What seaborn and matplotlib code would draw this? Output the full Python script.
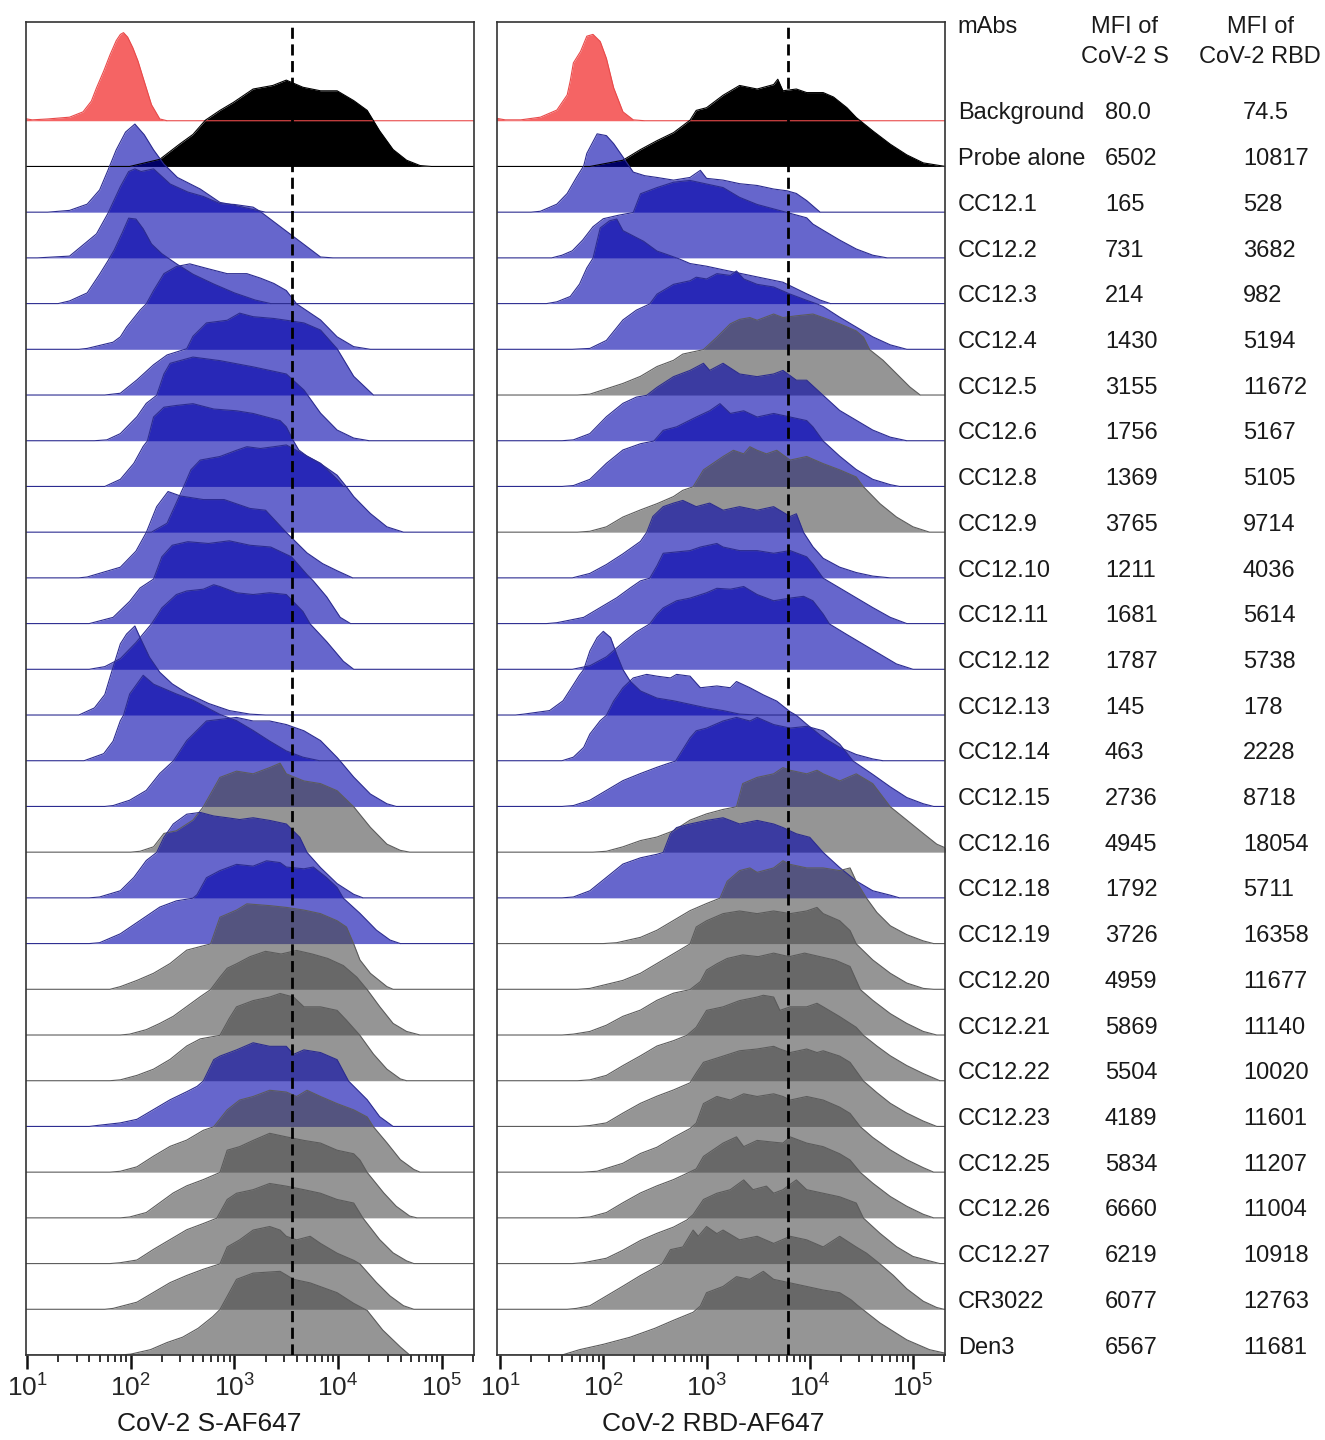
import numpy as np
import matplotlib
matplotlib.use("Agg")
import matplotlib.pyplot as plt
import seaborn as sns
from matplotlib.ticker import LogLocator, LogFormatterMathtext, NullFormatter

# ---- data --------------------------------------------------------------------
labels = ["Background", "Probe alone", "CC12.1", "CC12.2", "CC12.3", "CC12.4",
          "CC12.5", "CC12.6", "CC12.8", "CC12.9", "CC12.10", "CC12.11", "CC12.12",
          "CC12.13", "CC12.14", "CC12.15", "CC12.16", "CC12.18", "CC12.19",
          "CC12.20", "CC12.21", "CC12.22", "CC12.23", "CC12.25", "CC12.26",
          "CC12.27", "CR3022", "Den3"]
mfi_s = ["80.0", "6502", "165", "731", "214", "1430", "3155", "1756", "1369",
         "3765", "1211", "1681", "1787", "145", "463", "2736", "4945", "1792",
         "3726", "4959", "5869", "5504", "4189", "5834", "6660", "6219", "6077", "6567"]
mfi_rbd = ["74.5", "10817", "528", "3682", "982", "5194", "11672", "5167", "5105",
           "9714", "4036", "5614", "5738", "178", "2228", "8718", "18054", "5711",
           "16358", "11677", "11140", "10020", "11601", "11207", "11004", "10918",
           "12763", "11681"]

# r = background, k = probe alone, b = reduced binding, g = no competition
colors_s = list("rk" + "b" * 14 + "gbbgggb" + "g" * 5)
colors_rbd = list("rk" + "bbbb" + "g" + "bb" + "g" + "b" * 6 + "gb" + "g" * 10)

gate_s = 3590      # dashed reference line, S panel
gate_rbd = 6170    # dashed reference line, RBD panel

# histograms: (log10 fluorescence, % of mode)
hist_s = [
    [(0.95,3),(1.05,1),(1.2,2),(1.41,4),(1.54,10),(1.62,22),(1.67,37),(1.74,56),(1.80,74),(1.86,90),(1.90,97),(1.93,99),(1.97,94),(2.02,82),(2.07,67),(2.12,48),(2.2,18),(2.28,2),(2.35,0)],
    [(1.99,0),(2.28,8),(2.47,25),(2.6,36),(2.72,52),(2.86,63),(2.99,72),(3.18,87),(3.37,91),(3.5,97),(3.66,89),(3.83,85),(3.99,85),(4.15,74),(4.28,63),(4.4,40),(4.53,19),(4.66,7),(4.79,1),(4.9,0)],
    [(1.2,0),(1.41,2),(1.58,9),(1.70,25),(1.78,47),(1.86,70),(1.95,90),(2.04,99),(2.13,87),(2.22,70),(2.32,54),(2.45,39),(2.67,26),(2.86,11),(2.95,9),(3.18,3),(3.3,0)],
    [(1.1,0),(1.41,2),(1.67,27),(1.78,50),(1.9,80),(1.98,97),(2.04,100),(2.1,97),(2.22,100),(2.38,83),(2.55,74),(2.70,69),(2.86,61),(3.0,60),(3.18,57),(3.25,52),(3.5,30),(3.66,16),(3.83,1),(3.95,0)],
    [(1.3,0),(1.41,3),(1.58,12),(1.70,33),(1.78,48),(1.84,60),(1.92,80),(1.98,96),(2.05,95),(2.12,84),(2.2,67),(2.3,56),(2.45,44),(2.6,33),(2.8,22),(3.0,12),(3.2,4),(3.35,0)],
    [(1.5,0),(1.58,1),(1.83,8),(1.9,14),(1.96,25),(2.09,44),(2.15,51),(2.22,66),(2.32,85),(2.44,93),(2.57,96),(2.73,91),(2.93,85),(3.12,85),(3.25,80),(3.38,74),(3.5,66),(3.6,51),(3.83,33),(3.99,14),(4.15,3),(4.31,0)],
    [(1.75,0),(1.9,2),(2.06,17),(2.22,34),(2.35,45),(2.54,52),(2.6,66),(2.73,81),(2.93,84),(3.05,92),(3.18,88),(3.38,86),(3.5,84),(3.67,81),(3.83,73),(3.99,52),(4.15,21),(4.34,0)],
    [(1.65,0),(1.77,1),(1.9,8),(2.06,27),(2.15,42),(2.25,51),(2.32,75),(2.38,87),(2.6,94),(2.86,90),(3.18,83),(3.5,75),(3.67,57),(3.83,31),(3.99,12),(4.15,3),(4.3,0)],
    [(1.75,0),(1.9,8),(2.03,26),(2.12,45),(2.16,51),(2.22,78),(2.32,89),(2.44,91),(2.6,93),(2.8,87),(3.02,85),(3.18,82),(3.31,78),(3.44,74),(3.5,67),(3.57,51),(3.62,41),(3.7,34),(3.83,26),(3.99,8),(4.05,0)],
    [(2.2,0),(2.35,10),(2.44,33),(2.51,51),(2.58,70),(2.67,81),(2.86,85),(3.02,92),(3.12,96),(3.25,94),(3.38,96),(3.5,98),(3.66,88),(3.83,77),(3.99,64),(4.08,51),(4.15,40),(4.31,21),(4.47,6),(4.63,0)],
    [(1.5,0),(1.58,1),(1.9,12),(2.05,30),(2.15,51),(2.25,80),(2.36,97),(2.48,92),(2.7,88),(2.9,88),(3.15,78),(3.3,76),(3.5,51),(3.7,28),(3.85,16),(3.99,8),(4.14,0)],
    [(1.6,0),(1.83,7),(1.99,25),(2.09,40),(2.22,50),(2.3,75),(2.4,88),(2.55,92),(2.75,90),(2.95,93),(3.15,88),(3.35,86),(3.55,75),(3.7,55),(3.76,48),(3.89,30),(4.02,7),(4.12,0)],
    [(1.6,0),(1.75,3),(1.9,12),(2.05,30),(2.2,51),(2.3,69),(2.44,84),(2.54,88),(2.7,90),(2.8,95),(2.86,93),(3.02,86),(3.18,84),(3.34,86),(3.5,84),(3.66,65),(3.73,51),(3.89,31),(4.05,9),(4.15,0)],
    [(1.5,0),(1.65,8),(1.75,23),(1.82,50),(1.9,80),(1.96,91),(2.04,100),(2.09,87),(2.18,65),(2.28,48),(2.4,35),(2.55,24),(2.75,13),(2.95,5),(3.15,1),(3.3,0)],
    [(1.55,0),(1.74,8),(1.83,22),(1.9,45),(1.93,51),(1.99,75),(2.12,96),(2.22,86),(2.32,81),(2.44,75),(2.6,68),(2.73,60),(2.86,52),(3.02,45),(3.18,34),(3.34,22),(3.5,11),(3.66,4),(3.82,0)],
    [(1.75,0),(1.83,1),(1.99,7),(2.15,18),(2.28,37),(2.41,51),(2.54,74),(2.73,96),(3.02,100),(3.18,96),(3.34,96),(3.5,92),(3.67,85),(3.83,74),(3.99,55),(4.02,51),(4.15,33),(4.31,14),(4.47,3),(4.56,0)],
    [(2.0,0),(2.09,1),(2.22,6),(2.32,21),(2.44,24),(2.6,36),(2.7,51),(2.86,84),(3.02,91),(3.18,88),(3.34,95),(3.44,100),(3.5,88),(3.67,80),(3.83,77),(3.99,69),(4.15,51),(4.31,28),(4.47,9),(4.6,2),(4.69,0)],
    [(1.6,0),(1.7,1),(1.9,8),(2.03,23),(2.15,42),(2.25,51),(2.32,68),(2.41,83),(2.54,94),(2.67,96),(2.8,92),(2.93,90),(3.05,88),(3.18,90),(3.34,87),(3.5,83),(3.63,68),(3.7,51),(3.83,34),(3.99,16),(4.15,4),(4.24,0)],
    [(1.6,0),(1.7,1),(1.9,11),(2.09,26),(2.28,41),(2.44,48),(2.6,51),(2.64,55),(2.73,74),(2.86,82),(3.02,89),(3.18,87),(3.31,93),(3.44,91),(3.5,86),(3.67,84),(3.76,86),(3.89,74),(3.99,63),(4.05,51),(4.21,34),(4.37,15),(4.5,4),(4.6,0)],
    [(1.8,0),(1.9,3),(2.06,10),(2.22,18),(2.38,29),(2.54,44),(2.77,51),(2.86,81),(3.02,89),(3.12,96),(3.34,94),(3.5,92),(3.67,89),(3.83,85),(3.99,77),(4.08,70),(4.15,51),(4.21,33),(4.31,18),(4.47,3),(4.53,0)],
    [(1.9,0),(1.99,1),(2.15,6),(2.28,13),(2.41,21),(2.54,32),(2.67,43),(2.77,51),(2.86,65),(2.93,75),(3.02,80),(3.15,88),(3.3,94),(3.45,91),(3.6,95),(3.75,91),(3.9,86),(4.05,78),(4.18,65),(4.28,51),(4.4,32),(4.53,13),(4.66,4),(4.79,0)],
    [(1.8,0),(1.9,1),(2.06,6),(2.22,13),(2.38,24),(2.54,39),(2.67,47),(2.86,51),(2.95,70),(3.02,83),(3.18,90),(3.34,94),(3.44,98),(3.57,94),(3.67,83),(3.83,83),(3.99,79),(4.08,68),(4.21,51),(4.34,30),(4.47,13),(4.6,2),(4.66,0)],
    [(1.6,0),(1.67,1),(1.9,4),(2.06,8),(2.22,19),(2.38,30),(2.54,39),(2.64,45),(2.7,51),(2.8,75),(2.86,79),(3.02,86),(3.18,94),(3.34,90),(3.5,90),(3.57,81),(3.67,86),(3.83,83),(3.99,75),(4.1,51),(4.28,30),(4.4,11),(4.53,0)],
    [(1.8,0),(1.9,1),(2.06,6),(2.22,18),(2.38,29),(2.54,36),(2.7,47),(2.8,51),(2.93,70),(3.05,81),(3.18,85),(3.34,92),(3.5,90),(3.6,85),(3.7,92),(3.83,85),(3.99,77),(4.15,70),(4.28,62),(4.34,51),(4.47,33),(4.6,14),(4.73,3),(4.79,0)],
    [(1.9,0),(1.99,1),(2.15,6),(2.28,17),(2.41,28),(2.54,36),(2.7,43),(2.86,51),(2.93,76),(3.05,80),(3.18,87),(3.34,95),(3.5,91),(3.67,87),(3.83,84),(3.99,76),(4.15,72),(4.21,65),(4.28,51),(4.44,28),(4.56,13),(4.69,2),(4.76,0)],
    [(1.8,0),(1.9,1),(2.06,4),(2.22,16),(2.38,27),(2.54,38),(2.7,45),(2.83,51),(2.93,72),(3.02,79),(3.18,83),(3.34,90),(3.5,87),(3.67,83),(3.83,79),(3.99,72),(4.15,68),(4.24,51),(4.4,27),(4.53,12),(4.66,3),(4.73,0)],
    [(1.75,0),(1.83,1),(2.06,8),(2.22,19),(2.38,30),(2.54,38),(2.7,45),(2.86,51),(2.93,70),(3.05,78),(3.18,89),(3.34,93),(3.44,89),(3.5,82),(3.6,78),(3.73,82),(3.83,74),(3.99,63),(4.15,55),(4.21,51),(4.37,30),(4.5,15),(4.63,4),(4.73,0)],
    [(1.9,0),(2.0,1),(2.19,6),(2.35,14),(2.5,20),(2.65,30),(2.79,43),(2.86,51),(3.02,85),(3.18,92),(3.44,94),(3.57,85),(3.73,81),(3.99,70),(4.15,58),(4.28,50),(4.43,28),(4.6,9),(4.69,0)],
]

hist_rbd = [
    [(0.95,3),(1.05,1),(1.2,1),(1.39,4),(1.55,12),(1.65,29),(1.68,45),(1.71,65),(1.78,78),(1.84,95),(1.9,97),(1.97,89),(2.03,70),(2.1,37),(2.19,10),(2.29,1),(2.4,0)],
    [(1.87,0),(2.19,7),(2.36,19),(2.52,29),(2.68,38),(2.84,52),(2.9,63),(3.0,66),(3.16,80),(3.32,91),(3.49,87),(3.65,92),(3.69,98),(3.74,85),(3.87,87),(3.97,83),(4.13,83),(4.23,78),(4.36,66),(4.45,55),(4.61,40),(4.78,25),(4.94,13),(5.1,4),(5.26,1),(5.32,0)],
    [(1.3,0),(1.39,1),(1.55,9),(1.65,21),(1.74,39),(1.81,52),(1.84,66),(1.94,88),(2.03,86),(2.1,77),(2.19,62),(2.29,45),(2.4,41),(2.52,39),(2.68,36),(2.84,39),(2.94,47),(3.0,38),(3.16,36),(3.32,32),(3.49,30),(3.65,26),(3.78,24),(3.87,21),(3.97,13),(4.03,7),(4.1,0)],
    [(1.5,0),(1.6,3),(1.7,8),(1.8,20),(1.9,35),(2.0,44),(2.15,48),(2.29,51),(2.36,72),(2.52,79),(2.68,85),(2.84,87),(3.0,83),(3.16,79),(3.32,68),(3.49,60),(3.65,55),(3.78,51),(3.97,45),(4.03,38),(4.13,31),(4.29,20),(4.45,10),(4.61,3),(4.75,0)],
    [(1.45,0),(1.55,2),(1.68,8),(1.77,22),(1.84,40),(1.9,51),(1.97,85),(2.06,93),(2.13,95),(2.19,82),(2.29,76),(2.39,70),(2.52,59),(2.62,55),(2.74,50),(2.84,45),(3.0,42),(3.16,38),(3.49,30),(3.74,24),(3.97,11),(4.1,4),(4.2,0)],
    [(1.7,0),(1.87,1),(2.03,10),(2.19,33),(2.32,44),(2.45,51),(2.52,62),(2.68,73),(2.84,77),(2.9,81),(3.0,79),(3.1,85),(3.23,83),(3.29,88),(3.36,79),(3.49,73),(3.65,70),(3.81,62),(3.97,55),(4.07,51),(4.13,48),(4.29,36),(4.45,25),(4.61,14),(4.78,5),(4.94,0)],
    [(1.75,0),(1.87,1),(2.19,13),(2.36,21),(2.52,32),(2.68,39),(2.77,46),(2.97,51),(3.1,65),(3.23,80),(3.32,85),(3.42,87),(3.49,84),(3.65,91),(3.74,87),(3.87,89),(4.03,91),(4.13,87),(4.29,80),(4.45,72),(4.52,65),(4.58,51),(4.71,39),(4.84,24),(4.97,9),(5.07,0)],
    [(1.6,0),(1.71,1),(1.87,8),(2.03,27),(2.19,42),(2.32,49),(2.42,51),(2.52,60),(2.68,72),(2.84,79),(2.97,87),(3.03,79),(3.16,87),(3.32,75),(3.49,72),(3.65,75),(3.74,79),(3.87,68),(3.97,68),(4.13,51),(4.29,34),(4.45,23),(4.61,12),(4.78,4),(4.94,0)],
    [(1.6,0),(1.71,1),(1.87,8),(2.03,26),(2.19,41),(2.36,48),(2.49,51),(2.58,63),(2.71,67),(2.9,78),(3.03,85),(3.13,93),(3.23,82),(3.36,85),(3.49,78),(3.65,82),(3.81,78),(3.97,74),(4.03,67),(4.13,51),(4.29,34),(4.45,19),(4.61,8),(4.78,2),(4.87,0)],
    [(1.75,0),(1.87,1),(2.03,6),(2.19,17),(2.36,25),(2.52,32),(2.68,40),(2.77,47),(2.87,51),(2.97,70),(3.16,85),(3.26,92),(3.36,88),(3.42,96),(3.49,92),(3.58,88),(3.68,92),(3.81,81),(3.97,85),(4.13,77),(4.29,70),(4.45,62),(4.52,51),(4.68,32),(4.84,17),(5.0,6),(5.16,0)],
    [(1.7,0),(1.87,5),(2.03,15),(2.19,27),(2.36,41),(2.42,51),(2.48,69),(2.58,80),(2.68,84),(2.77,87),(2.9,80),(3.03,84),(3.16,76),(3.32,80),(3.49,76),(3.65,80),(3.81,69),(3.87,72),(3.94,51),(4.03,35),(4.13,22),(4.29,12),(4.45,6),(4.61,2),(4.78,0)],
    [(1.45,0),(1.55,1),(1.81,7),(1.97,18),(2.13,29),(2.26,40),(2.36,48),(2.45,51),(2.52,65),(2.58,79),(2.84,82),(2.94,86),(3.1,90),(3.16,86),(3.32,82),(3.49,82),(3.65,79),(3.81,82),(3.97,75),(4.03,67),(4.13,51),(4.29,40),(4.45,29),(4.61,18),(4.78,7),(4.94,0)],
    [(1.7,0),(1.87,4),(2.03,14),(2.19,30),(2.32,42),(2.45,51),(2.52,62),(2.58,69),(2.71,77),(2.84,80),(3.0,86),(3.1,91),(3.23,90),(3.36,93),(3.49,84),(3.65,77),(3.81,80),(3.94,82),(4.03,77),(4.13,62),(4.19,51),(4.36,39),(4.52,28),(4.68,17),(4.84,6),(5.0,0)],
    [(1.15,0),(1.23,1),(1.48,5),(1.61,16),(1.71,34),(1.77,45),(1.81,51),(1.87,72),(1.94,87),(2.0,94),(2.07,87),(2.13,68),(2.19,51),(2.26,38),(2.36,27),(2.52,19),(2.68,16),(2.84,12),(3.0,8),(3.16,5),(3.32,1),(3.49,0)],
    [(1.6,0),(1.71,4),(1.81,15),(1.87,30),(1.97,45),(2.03,51),(2.1,67),(2.19,82),(2.29,93),(2.42,97),(2.52,95),(2.65,93),(2.71,97),(2.84,95),(2.94,82),(3.1,84),(3.23,82),(3.29,89),(3.42,82),(3.55,74),(3.68,67),(3.81,55),(3.87,51),(3.97,41),(4.13,26),(4.29,15),(4.45,7),(4.61,2),(4.71,0)],
    [(1.6,0),(1.71,1),(1.87,7),(2.03,18),(2.19,29),(2.36,37),(2.52,44),(2.62,48),(2.7,51),(2.84,77),(2.9,85),(3.0,88),(3.16,96),(3.29,100),(3.42,96),(3.49,100),(3.65,92),(3.81,88),(3.97,90),(4.13,85),(4.29,70),(4.42,51),(4.61,36),(4.78,22),(4.94,10),(5.1,3),(5.2,0)],
    [(1.9,0),(2.03,1),(2.19,6),(2.36,13),(2.52,17),(2.68,24),(2.84,36),(3.0,43),(3.16,48),(3.29,51),(3.35,77),(3.49,84),(3.65,88),(3.74,95),(3.81,92),(3.97,88),(4.07,92),(4.13,88),(4.29,80),(4.45,88),(4.61,77),(4.78,51),(4.94,36),(5.1,21),(5.23,9),(5.35,3)],
    [(1.6,0),(1.71,1),(1.87,8),(2.03,23),(2.19,38),(2.36,45),(2.52,49),(2.58,51),(2.65,72),(2.71,79),(2.84,83),(3.0,87),(3.16,90),(3.23,87),(3.32,83),(3.49,87),(3.65,83),(3.74,79),(3.87,72),(4.0,68),(4.13,51),(4.29,34),(4.45,19),(4.61,8),(4.78,3),(4.87,0)],
    [(2.0,0),(2.13,1),(2.36,7),(2.52,15),(2.68,26),(2.84,37),(3.0,45),(3.13,51),(3.2,70),(3.32,82),(3.42,85),(3.49,80),(3.65,85),(3.74,93),(3.81,89),(3.97,85),(4.13,85),(4.29,82),(4.39,85),(4.45,70),(4.55,51),(4.65,35),(4.78,20),(4.94,10),(5.1,3),(5.2,0)],
    [(1.75,0),(1.87,1),(2.19,10),(2.36,18),(2.52,29),(2.68,40),(2.84,51),(2.9,70),(3.0,77),(3.16,85),(3.32,88),(3.49,85),(3.65,88),(3.81,85),(3.97,88),(4.07,92),(4.13,85),(4.29,77),(4.39,66),(4.45,51),(4.61,33),(4.78,18),(4.94,7),(5.1,1),(5.2,0)],
    [(1.6,0),(1.71,1),(1.87,4),(2.03,11),(2.19,21),(2.36,28),(2.52,39),(2.68,47),(2.84,51),(2.94,60),(3.0,73),(3.1,80),(3.2,86),(3.35,90),(3.5,88),(3.65,92),(3.8,88),(3.95,92),(4.1,88),(4.25,84),(4.39,77),(4.49,51),(4.61,39),(4.78,24),(4.94,13),(5.1,4),(5.23,0)],
    [(1.75,0),(1.87,1),(2.03,6),(2.19,17),(2.36,28),(2.52,39),(2.68,45),(2.81,51),(2.9,60),(3.0,79),(3.16,83),(3.32,90),(3.49,94),(3.55,96),(3.65,94),(3.71,79),(3.81,83),(3.97,83),(4.07,87),(4.13,83),(4.29,72),(4.45,60),(4.52,51),(4.65,39),(4.78,28),(4.94,17),(5.1,8),(5.26,0)],
    [(1.75,0),(1.87,1),(2.03,4),(2.19,15),(2.36,26),(2.52,34),(2.68,41),(2.84,49),(2.9,60),(2.97,72),(3.16,79),(3.32,85),(3.49,87),(3.65,90),(3.71,87),(3.81,83),(3.97,87),(4.07,83),(4.13,85),(4.29,79),(4.39,72),(4.52,51),(4.65,38),(4.78,26),(4.94,15),(5.1,6),(5.23,0)],
    [(1.8,0),(1.94,1),(2.19,10),(2.36,21),(2.52,28),(2.68,39),(2.84,49),(2.9,55),(2.97,77),(3.1,85),(3.23,81),(3.36,88),(3.49,85),(3.65,88),(3.74,85),(3.81,81),(3.97,85),(4.13,81),(4.29,73),(4.39,66),(4.49,51),(4.61,39),(4.78,25),(4.94,14),(5.1,5),(5.2,0)],
    [(1.75,0),(1.87,1),(2.03,6),(2.19,17),(2.36,28),(2.52,36),(2.68,43),(2.81,50),(2.9,55),(2.97,69),(3.16,84),(3.29,91),(3.36,80),(3.49,87),(3.65,85),(3.74,84),(3.81,91),(3.97,84),(4.13,80),(4.29,72),(4.39,65),(4.49,51),(4.61,39),(4.78,24),(4.94,13),(5.1,4),(5.2,0)],
    [(1.7,0),(1.81,1),(2.03,6),(2.19,15),(2.36,26),(2.52,34),(2.68,41),(2.81,49),(2.87,55),(2.97,72),(3.1,79),(3.23,83),(3.36,94),(3.45,83),(3.58,87),(3.65,79),(3.74,83),(3.87,94),(3.97,83),(4.13,79),(4.29,75),(4.45,68),(4.52,51),(4.68,34),(4.84,19),(5.0,8),(5.16,3),(5.26,0)],
    [(1.65,0),(1.74,1),(1.87,4),(2.03,15),(2.19,26),(2.36,38),(2.52,48),(2.57,51),(2.65,67),(2.77,70),(2.87,89),(2.92,82),(3.0,93),(3.1,85),(3.16,89),(3.32,78),(3.49,82),(3.65,74),(3.81,82),(3.97,78),(4.13,70),(4.29,82),(4.45,70),(4.55,63),(4.68,51),(4.81,38),(4.94,23),(5.1,9),(5.23,2),(5.3,0)],
    [(1.6,0),(1.77,6),(2.0,12),(2.26,20),(2.5,30),(2.68,39),(2.87,48),(2.94,55),(3.0,70),(3.16,77),(3.29,88),(3.42,85),(3.55,94),(3.65,85),(3.81,81),(3.97,77),(4.13,73),(4.29,70),(4.4,62),(4.46,56),(4.68,36),(4.94,17),(5.16,6),(5.35,1)],
]

# ---- styling ---------------------------------------------------------------
sns.set_theme(style="ticks")
plt.rcParams["font.family"] = ["Liberation Sans", "DejaVu Sans"]
plt.rcParams["mathtext.fontset"] = "custom"
plt.rcParams["mathtext.rm"] = "Liberation Sans"
plt.rcParams["mathtext.it"] = "Liberation Sans:italic"
plt.rcParams["mathtext.bf"] = "Liberation Sans:bold"

styles = {
    "r": dict(face="#f56464", alpha=1.0, edge="#e84a4a"),
    "k": dict(face="#000000", alpha=1.0, edge="#000000"),
    "b": dict(face="#0000aa", alpha=0.6, edge="#2c2c90"),
    "g": dict(face="#484848", alpha=0.58, edge="#5c5c5c"),
}

W, H = 1325, 1440
n = len(labels)
mode_h = 1.947          # height of 100 % of mode, in rows
ytop = 29.16

fig = plt.figure(figsize=(W / 100, H / 100), dpi=100)
ax_s = fig.add_axes([26 / W, 85 / H, 448 / W, 1333 / H])
ax_r = fig.add_axes([497 / W, 85 / H, 448 / W, 1333 / H])
ax_t = fig.add_axes([950 / W, 85 / H, 375 / W, 1333 / H])


def draw_panel(ax, hists, codes, gate, xlog, xlabel, label_x):
    ax.set_xscale("log")
    for i, (knots, code) in enumerate(zip(hists, codes)):
        st = styles[code]
        base = n - 1 - i
        lx = [k[0] for k in knots]
        pc = [k[1] for k in knots]
        if lx[0] > xlog[0]:
            lx, pc = [xlog[0] - 0.05] + lx, [0] + pc
        if lx[-1] < xlog[1]:
            lx, pc = lx + [xlog[1] + 0.05], pc + [0]
        x = 10 ** np.array(lx)
        y = base + np.array(pc) / 100 * mode_h
        ax.fill_between(x, base, y, color=st["face"], alpha=st["alpha"], lw=0)
        sns.lineplot(x=x, y=y, ax=ax, color=st["edge"], lw=0.8,
                     estimator=None, sort=False)
    ax.axvline(gate, color="black", lw=2, ls=(0, (4, 2)), zorder=20)
    ax.set_xlim(10 ** xlog[0], 10 ** xlog[1])
    ax.set_ylim(0, ytop)
    ax.set_yticks([])
    ax.xaxis.set_major_locator(LogLocator(base=10, numticks=10))
    ax.xaxis.set_major_formatter(LogFormatterMathtext())
    ax.xaxis.set_minor_locator(LogLocator(base=10, subs=np.arange(2, 10), numticks=20))
    ax.xaxis.set_minor_formatter(NullFormatter())
    ax.tick_params(axis="x", which="major", direction="out", length=10, width=1.8,
                   labelsize=19, pad=4, color="#111111")
    ax.tick_params(axis="x", which="minor", direction="out", length=5, width=1.2,
                   color="#111111")
    for sp in ax.spines.values():
        sp.set_color("#333333")
        sp.set_linewidth(1.2)
    ax.set_xlabel(xlabel, fontsize=19, color="#1a1a1a")
    ax.xaxis.set_label_coords(label_x, -0.043)
    ax.set_ylabel("")


draw_panel(ax_s, hist_s, colors_s, gate_s, (0.99, 5.31), "CoV-2 S-AF647", 0.41)
draw_panel(ax_r, hist_rbd, colors_rbd, gate_rbd, (0.97, 5.31), "CoV-2 RBD-AF647", 0.483)

# ---- table on the right ------------------------------------------------------
ax_t.set_xlim(0, 1)
ax_t.set_ylim(0, ytop)
ax_t.axis("off")
tkw = dict(fontsize=17, color="#1a1a1a", va="baseline", clip_on=False)
ax_t.text(0.021, 28.92, "mAbs", ha="left", **tkw)
ax_t.text(0.466, 28.92, "MFI of", ha="center", **tkw)
ax_t.text(0.466, 28.26, "CoV-2 S", ha="center", **tkw)
ax_t.text(0.827, 28.92, "MFI of", ha="center", **tkw)
ax_t.text(0.827, 28.26, "CoV-2 RBD", ha="center", **tkw)
for i in range(n):
    yb = n - 1 - i + 0.03
    ax_t.text(0.021, yb, labels[i], ha="left", **tkw)
    ax_t.text(0.413, yb, mfi_s[i], ha="left", **tkw)
    ax_t.text(0.781, yb, mfi_rbd[i], ha="left", **tkw)

fig.savefig("out.png", dpi=100, facecolor="white")
